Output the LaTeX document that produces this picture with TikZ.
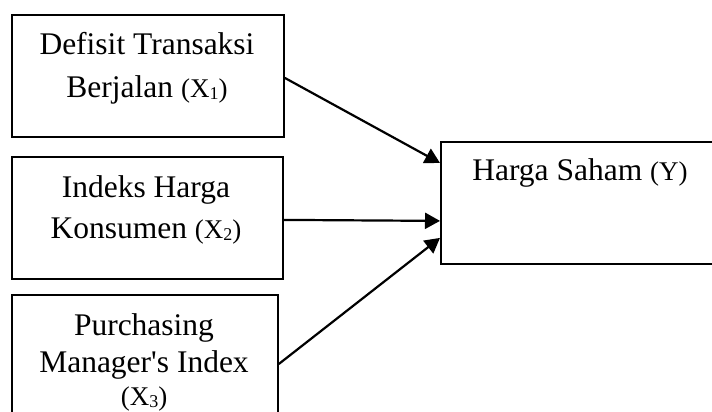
\documentclass[tikz,border=0pt]{standalone}
\usepackage{fontspec}
\setmainfont{Liberation Serif}[Ligatures=TeXOff]
\usetikzlibrary{arrows.meta,calc}

% smaller type for the variable labels such as (X_1)
\newcommand{\parsize}{\fontsize{27}{30}\selectfont}
\newcommand{\idx}[1]{\raisebox{-2.5pt}{\fontsize{18}{18}\selectfont #1}}
\newcommand{\varlabel}[1]{{\parsize(X\idx{#1})}}

\begin{document}
\begin{tikzpicture}[x=1pt,y=-1pt,
  box/.style={draw, line width=1.8pt, rectangle, inner sep=0pt, anchor=north west},
  txt/.style={anchor=base, inner sep=0pt, font=\fontsize{31.5}{38}\selectfont},
  link/.style={line width=2.2pt, -{Triangle[length=15pt,width=16pt]}}]
\path[use as bounding box] (0,0) rectangle (712,412);
\clip (0,0) rectangle (712,412);

% independent variables
\node[box, minimum width=272pt, minimum height=122pt] (b1) at (11,14) {};
\node[box, minimum width=271pt, minimum height=122pt] (b2) at (11,156) {};
\node[box, minimum width=266pt, minimum height=140pt] (b3) at (11,294) {};
% dependent variable
\node[box, minimum width=290pt, minimum height=122pt] (by) at (440,141) {};

% box texts
\node[txt] (t1a) at (147,55) {Defisit Transaksi};
\node[txt] (t1b) at (147,97) {Berjalan \varlabel{1}};
\node[txt] (t2a) at (146,197) {Indeks Harga};
\node[txt] (t2b) at (146,238) {Konsumen \varlabel{2}};
\node[txt] (t3a) at (144,335) {Purchasing};
\node[txt] (t3b) at (144,372) {Manager's Index};
\node[txt] (t3c) at (144,405) {\varlabel{3}};
\node[txt] (ty) at (580,180) {Harga Saham {\parsize(Y)}};

% influence arrows
\draw[link] ($(b1.east)+(0,2)$) -- ($(by.north west)+(0,22)$);
\draw[link] ($(b2.east)+(0,2)$) -- ($(by.west)+(0,18)$);
\draw[link] ($(b3.north east)+(0,70)$) -- ($(by.west)+(0,35)$);
\end{tikzpicture}
\end{document}
